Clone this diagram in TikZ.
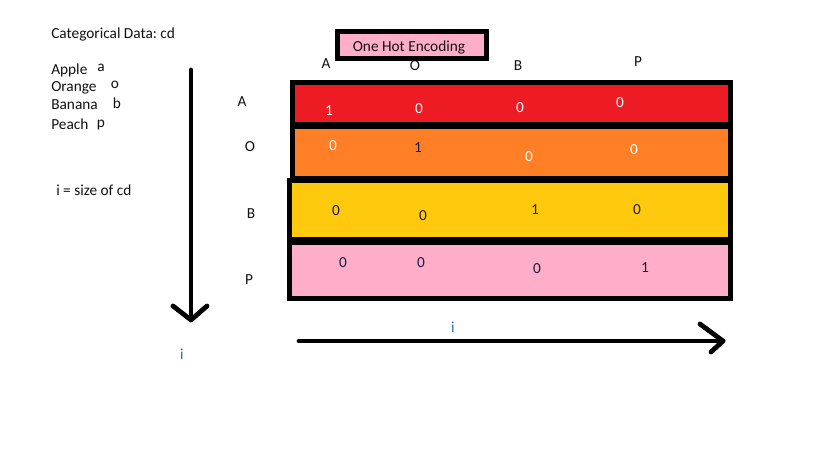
\documentclass[tikz,border=0pt]{standalone}
\usepackage{fontspec}
\setmainfont{Carlito}
\frenchspacing
\definecolor{pred}{HTML}{ED1C24}
\definecolor{porange}{HTML}{FF7F27}
\definecolor{pyellow}{HTML}{FFC90E}
\definecolor{ppink}{HTML}{FFAEC9}
\definecolor{txt}{HTML}{111111}
\definecolor{digdark}{HTML}{1A1A3A}
\definecolor{iblue}{HTML}{1F6FB5}
\begin{document}
\begin{tikzpicture}[x=0.75pt,y=-0.75pt,
  lbl/.style={font=\fontsize{11.5}{13}\selectfont, text=txt, inner sep=0pt},
  lblw/.style={lbl, anchor=west},
  dig/.style={font=\fontsize{11.5}{13}\selectfont, text=digdark, inner sep=0pt},
  digw/.style={dig, text=white},
  rowbox/.style={draw=black, line width=3.75pt},
  axis/.style={line width=3.6pt, line cap=round, line join=round}]
\useasboundingbox[fill=white] (0,0) rectangle (819,460);

% left legend
\node[lblw] (title) at (51,34) {Categorical Data: cd};
\node[lblw] (apple) at (51,70) {Apple};
\node[lbl] (la) at (101,68) {a};
\node[lblw] (orange) at (51,88) {Orange};
\node[lbl] (lo) at (115,85) {o};
\node[lblw] (banana) at (51,105) {Banana};
\node[lbl] (lb) at (117,103) {b};
\node[lblw] (peach) at (51,124) {Peach};
\node[lbl] (lp) at (101,125) {p};
\node[lblw] (size) at (56,190) {i = size of cd};

% title box
\draw[draw=black, fill=ppink, line width=3.75pt] (337.5,31.5) rectangle (486.5,58.5);
\node[lbl] (ohe) at (409,47) {One Hot Encoding};

% column headers
\node[lbl] (cA) at (326,64) {A};
\node[lbl] (cO) at (415,66) {O};
\node[lbl] (cB) at (518,66) {B};
\node[lbl] (cP) at (638,62) {P};

% rows
\draw[rowbox, fill=pred] (292.5,82.5) rectangle (730.5,124.5);
\draw[rowbox, fill=porange] (292.5,126.5) rectangle (730.5,178.5);
\draw[rowbox, fill=pyellow] (289.5,180.5) rectangle (730.5,239.5);
\draw[rowbox, fill=ppink] (289.5,242.5) rectangle (730.5,298.5);

% row labels
\node[lbl] (rA) at (242,102) {A};
\node[lbl] (rO) at (250,147) {O};
\node[lbl] (rB) at (251,214) {B};
\node[lbl] (rP) at (249,280) {P};

% values
\node[digw] (v11) at (329,111) {1};
\node[digw] (v12) at (419,109) {0};
\node[digw] (v13) at (520,108) {0};
\node[digw] (v14) at (620,103) {0};
\node[digw] (v21) at (333,146) {0};
\node[dig] (v22) at (418,148) {1};
\node[digw] (v23) at (529,157) {0};
\node[digw] (v24) at (634,150) {0};
\node[dig] (v31) at (336,211) {0};
\node[dig] (v32) at (423,216) {0};
\node[dig] (v33) at (535,210) {1};
\node[dig] (v34) at (637,210) {0};
\node[dig] (v41) at (343,263) {0};
\node[dig] (v42) at (421,263) {0};
\node[dig] (v43) at (537,269) {0};
\node[dig] (v44) at (645,268) {1};

% vertical axis
\coordinate (vtop) at (191,70);
\coordinate (vtip) at (191,320);
\coordinate (vl) at (173,306);
\coordinate (vr) at (207,306);
\draw[axis] (vtop) -- (vtip);
\draw[axis] (vl) -- (vtip) -- (vr);
\node[lbl, text=iblue] (iv) at (182,354) {i};

% horizontal axis
\coordinate (hstart) at (299,341);
\coordinate (htip) at (723,341);
\coordinate (hu) at (700,324);
\coordinate (hd) at (711,352);
\draw[axis] (hstart) -- (htip);
\draw[axis] (hu) -- (htip) -- (hd);
\node[lbl, text=iblue] (ih) at (453,327) {i};
\end{tikzpicture}
\end{document}
